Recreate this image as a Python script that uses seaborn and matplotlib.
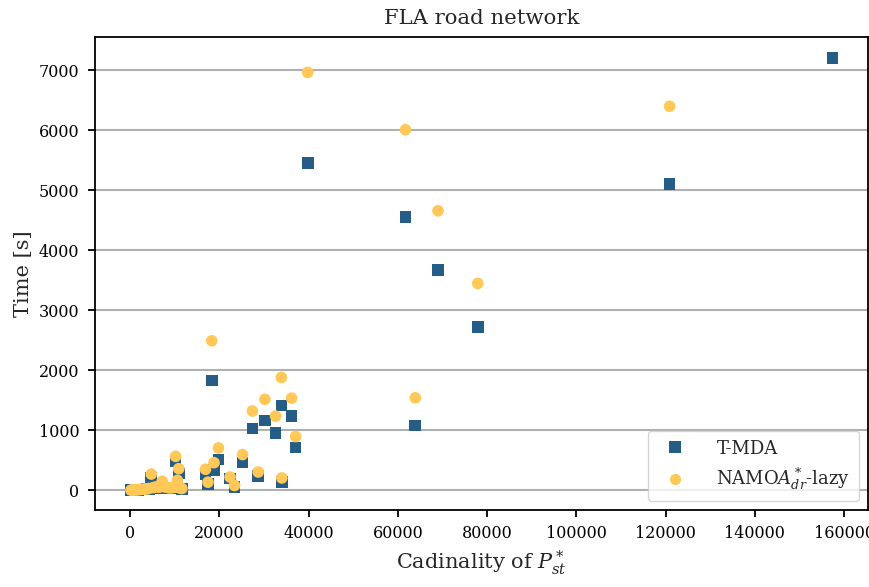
import numpy as np
import pandas as pd
import matplotlib
matplotlib.use("Agg")
import matplotlib.pyplot as plt
import seaborn as sns

# ---- data ----
cardinality = [157400, 39800, 61700, 69000, 77900, 120900, 63900, 18300,
               33900, 30200, 36200, 27400, 32600, 37100, 19800, 18800,
               16900, 17450, 25200, 22400, 23400, 28700, 34000, 10200,
               10900, 10600, 4750, 7200,
               200, 500, 900, 1200, 1500, 1800, 2200, 2600, 3000, 3400,
               3800, 4200, 5200, 5600, 6000, 6400, 6800, 7600, 8000, 8500,
               9000, 9500, 10000, 11000, 11600]
tmda_time = [7200, 5450, 4550, 3665, 2715, 5105, 1080, 1830,
             1415, 1165, 1240, 1030, 955, 715, 510, 335,
             265, 100, 460, 195, 50, 240, 140, 480,
             280, 80, 200, 80,
             2, 3, 4, 5, 6, 8, 10, 12, 14, 15,
             18, 20, 30, 35, 40, 38, 42, 45, 40, 35,
             30, 35, 40, 30, 20]
namoa_time = [np.nan, 6960, 6005, 4655, 3445, 6395, 1540, 2490,
              1880, 1515, 1535, 1320, 1235, 895, 705, 460,
              350, 135, 595, 220, 80, 305, 205, 565,
              360, 165, 270, 150,
              3, 4, 5, 6, 8, 10, 12, 15, 18, 20,
              25, 30, 45, 50, 55, 50, 60, 60, 55, 45,
              40, 45, 50, 40, 30]
methods = ["T-MDA", r"NAMO$A^*_{dr}$-lazy"]
colors = ["#265d87", "#ffc857"]
xticks = [0, 20000, 40000, 60000, 80000, 100000, 120000, 140000, 160000]
yticks = [0, 1000, 2000, 3000, 4000, 5000, 6000, 7000]

df = pd.concat([
    pd.DataFrame({"x": cardinality, "y": tmda_time, "method": methods[0]}),
    pd.DataFrame({"x": cardinality, "y": namoa_time, "method": methods[1]}),
]).dropna()

sns.set_style("ticks")
plt.rcParams["font.family"] = ["DejaVu Serif"]
plt.rcParams["mathtext.fontset"] = "dejavuserif"

fig = plt.figure(figsize=(8.7, 5.87), dpi=100)
ax = fig.add_axes([0.109, 0.131, 0.889, 0.806])

sns.scatterplot(data=df, x="x", y="y", hue="method", style="method",
                markers={methods[0]: "s", methods[1]: "o"},
                palette=dict(zip(methods, colors)), s=70, linewidth=0,
                ax=ax, zorder=3)

ax.yaxis.grid(True, color="#b0b0b0", linewidth=1.5, zorder=0)
ax.set_axisbelow(True)
ax.set_xticks(xticks)
ax.set_yticks(yticks)
ax.set_xlim(-7900, 165400)
ax.set_ylim(-330, 7550)
for sp in ax.spines.values():
    sp.set_visible(True)
    sp.set_color("black")
    sp.set_linewidth(1.3)
ax.tick_params(axis="both", direction="out", length=5, width=1.3,
               labelsize=11.5, colors="black", pad=6)

ax.set_title("FLA road network", fontsize=15.3, pad=9)
ax.set_xlabel(r"Cadinality of $P^*_{st}$", fontsize=15)
ax.set_ylabel("Time [s]", fontsize=15)

h, l = ax.get_legend_handles_labels()
leg = ax.legend(h, l, loc="lower right", fontsize=13, frameon=True,
                fancybox=True, framealpha=0.8, edgecolor="#cccccc",
                borderpad=0.5, handletextpad=1.3, labelspacing=0.45)
for lh in leg.legend_handles:
    lh.set_markersize(8)

fig.savefig("out.png", dpi=100)
